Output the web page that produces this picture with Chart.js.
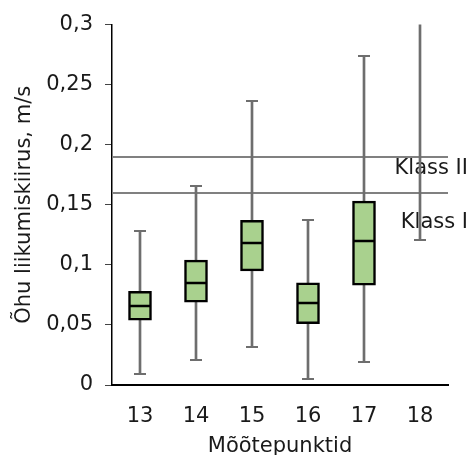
<!DOCTYPE html>
<html lang="et">
<head>
  <meta charset="utf-8" />
  <title>Õhu liikumiskiirus mõõtepunktides</title>
  <script src="https://cdn.jsdelivr.net/npm/chart.js@4/dist/chart.umd.min.js"></script>
  <style>
    html, body { margin: 0; padding: 0; background: #fff; }
    canvas { display: block; }
  </style>
</head>
<body>
  <canvas id="boxChart" width="470" height="455"></canvas>

  <script>
    // 1. Data
    const categories = ["13", "14", "15", "16", "17", "18"];
    const whiskerMin = [0.009, 0.021, 0.032, 0.005, 0.019, 0.121];
    const quartile1  = [0.054, 0.069, 0.095, 0.051, 0.083, 0.330];
    const medians    = [0.066, 0.085, 0.118, 0.068, 0.120, 0.360];
    const quartile3  = [0.078, 0.104, 0.137, 0.085, 0.153, 0.400];
    const whiskerMax = [0.128, 0.166, 0.236, 0.137, 0.274, 0.500];
    const classNames  = ["Klass I", "Klass II"];
    const classLimits = [0.16, 0.19];
    const yTicks = [0, 0.05, 0.1, 0.15, 0.2, 0.25, 0.3];

    const fmt = v => String(Math.round(v * 100) / 100).replace(".", ",");
    const FONT = "'DejaVu Sans', Verdana, sans-serif";
    const TEXT = "#1a1a1a";

    Chart.defaults.font.family = FONT;
    Chart.defaults.font.size = 21;
    Chart.defaults.color = TEXT;

    // 2. Class lines, labels, whisker caps and medians
    const boxExtras = {
      id: "boxExtras",
      beforeDatasetsDraw(chart) {
        const { ctx, chartArea, scales: { y } } = chart;
        const labelShift = [30, 12]; // px below each line
        ctx.save();
        ctx.strokeStyle = "#808080";
        ctx.lineWidth = 2;
        ctx.fillStyle = TEXT;
        ctx.font = "21px " + FONT;
        ctx.textAlign = "right";
        ctx.textBaseline = "middle";
        classLimits.forEach((v, i) => {
          const py = Math.round(y.getPixelForValue(v));
          ctx.beginPath();
          ctx.moveTo(chartArea.left, py);
          ctx.lineTo(chartArea.right, py);
          ctx.stroke();
          ctx.fillText(classNames[i], chart.width - 2, py + labelShift[i]);
        });
        ctx.restore();
      },
      afterDatasetsDraw(chart) {
        const { ctx, chartArea, scales: { x, y } } = chart;
        ctx.save();
        ctx.beginPath();
        ctx.rect(chartArea.left, chartArea.top - 1, chartArea.right - chartArea.left, chartArea.bottom - chartArea.top + 1);
        ctx.clip();
        categories.forEach((c, i) => {
          const px = x.getPixelForValue(i);
          ctx.strokeStyle = "#6e6e6e";
          ctx.lineWidth = 2;
          [whiskerMin[i], whiskerMax[i]].forEach(v => {
            const py = Math.round(y.getPixelForValue(v));
            ctx.beginPath();
            ctx.moveTo(px - 6, py);
            ctx.lineTo(px + 6, py);
            ctx.stroke();
          });
          const pm = Math.round(y.getPixelForValue(medians[i]));
          ctx.strokeStyle = "#000";
          ctx.lineWidth = 2.5;
          ctx.beginPath();
          ctx.moveTo(px - 11, pm);
          ctx.lineTo(px + 11, pm);
          ctx.stroke();
        });
        ctx.restore();
      }
    };

    // 3. Chart
    const ctx = document.getElementById("boxChart").getContext("2d");
    new Chart(ctx, {
      type: "bar",
      data: {
        labels: categories,
        datasets: [
          {
            label: "Kvartiilid",
            data: categories.map((c, i) => [quartile1[i], quartile3[i]]),
            backgroundColor: "#a9d18e",
            borderColor: "#000",
            borderWidth: 2.5,
            borderSkipped: false,
            barThickness: 23,
            grouped: false
          },
          {
            label: "Vurrud",
            data: categories.map((c, i) => [whiskerMin[i], whiskerMax[i]]),
            backgroundColor: "#6e6e6e",
            borderWidth: 0,
            barThickness: 2,
            grouped: false
          }
        ]
      },
      options: {
        responsive: false,
        animation: false,
        layout: { padding: { top: 24, right: 22, left: 0, bottom: 0 } },
        plugins: { legend: { display: false }, tooltip: { enabled: false } },
        scales: {
          x: {
            grid: { display: false },
            border: { display: true, color: "#000", width: 2 },
            ticks: { padding: 11 },
            title: { display: true, text: "Mõõtepunktid", padding: { top: 0, bottom: -4 } },
            afterFit: s => { s.height = 70; }
          },
          y: {
            min: 0,
            max: 0.3,
            afterBuildTicks: s => { s.ticks = yTicks.map(v => ({ value: v })); },
            grid: { display: true, drawOnChartArea: false, tickLength: 7, color: "#444" },
            border: { display: true, color: "#000", width: 1.5 },
            ticks: { padding: 12, callback: v => fmt(v) },
            title: { display: true, text: "Õhu liikumiskiirus, m/s", padding: { top: 12, bottom: 0 } },
            afterFit: s => { s.width = 112; }
          }
        }
      },
      plugins: [boxExtras]
    });
  </script>
</body>
</html>
